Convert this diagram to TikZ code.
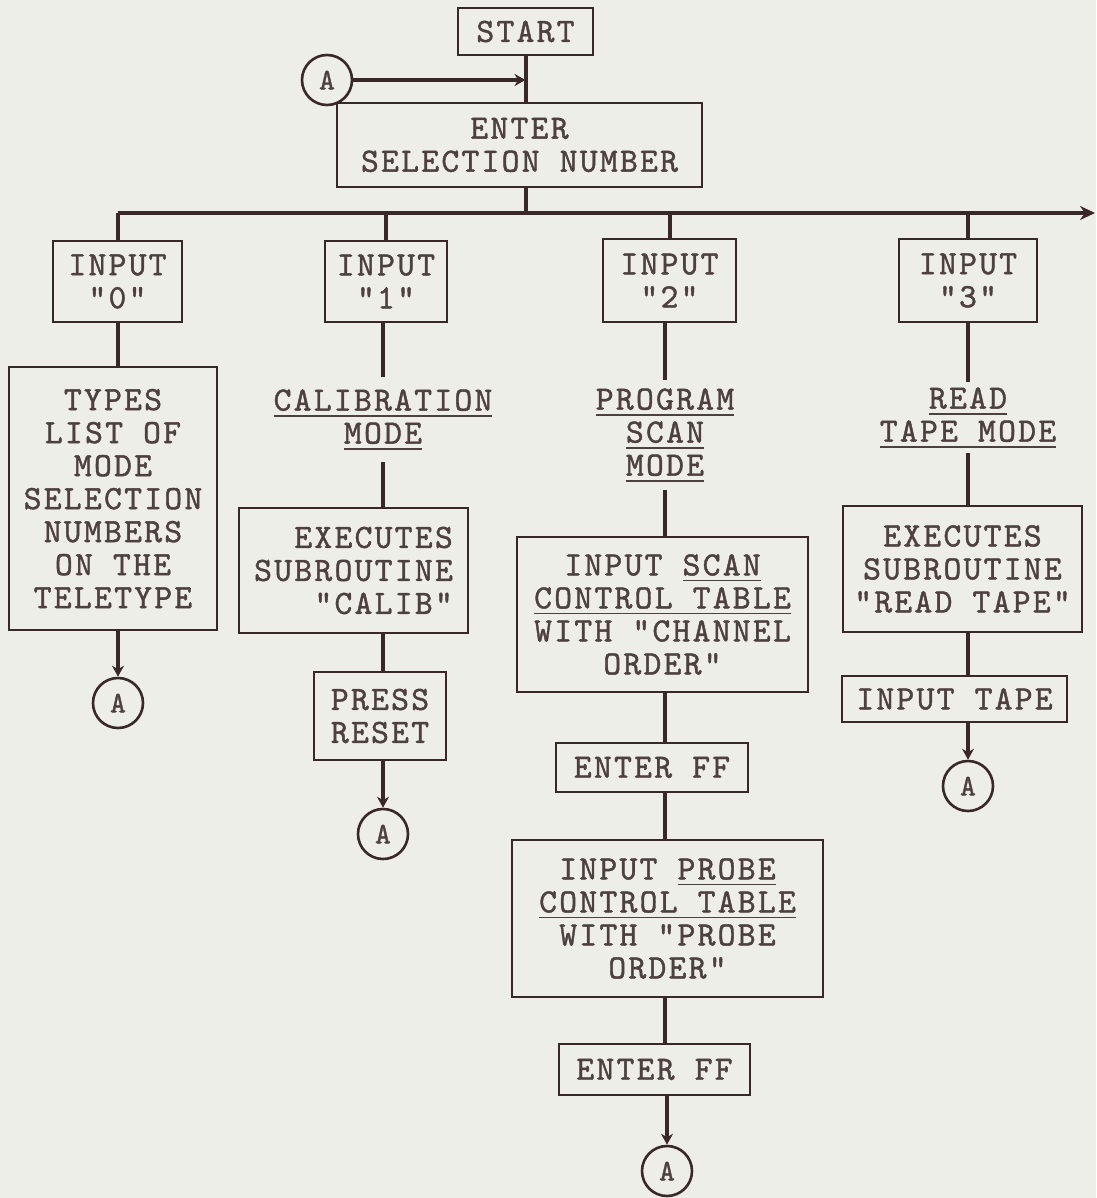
\documentclass[tikz,border=0pt]{standalone}
\usepackage{fontspec}
\newfontfamily\twf{lmmono10-regular.otf}[LetterSpace=6.6, FakeBold=1.2]
\usetikzlibrary{arrows.meta}
\definecolor{ink}{RGB}{58,40,40}
\definecolor{txt}{RGB}{78,64,64}
\definecolor{paper}{RGB}{237,238,231}
\newcommand{\twfont}{\twf\fontsize{34}{33}\selectfont}
\newcommand{\circfont}{\twf\fontsize{30}{30}\selectfont}
\newcommand{\uln}[1]{\setbox0\hbox{#1}\rlap{\rule[-6pt]{\wd0}{1.8pt}}\box0}
\begin{document}
\begin{tikzpicture}[x=1pt,y=-1pt,
  box/.style={draw=ink, line width=2.8pt, text=txt, inner sep=0pt, align=center, font=\twfont},
  lab/.style={text=txt, inner sep=0pt, align=center, font=\twfont},
  circ/.style={draw=ink, circle, line width=2.6pt, minimum size=50pt, inner sep=0pt, text=txt, font=\circfont},
  conn/.style={draw=ink, line width=4pt},
  arr/.style={conn, -{Stealth[length=11pt,width=12pt]}},
  busarr/.style={conn, -{Stealth[length=15pt,width=14pt]}}]
\fill[paper] (0,0) rectangle (1096,1198);
\useasboundingbox (0,0) rectangle (1096,1198);
% top
\node[box, minimum width=135pt, minimum height=47pt] (start) at (525.5,31.5) {START};
\node[box, minimum width=365pt, minimum height=84pt] (enter) at (519.5,145) {ENTER\\SELECTION NUMBER};
\node[circ] (a0) at (327,80) {A};
% inputs
\node[box, minimum width=129pt, minimum height=81pt] (in0) at (117.5,281.5) {INPUT\\"0"};
\node[box, minimum width=122pt, minimum height=81pt] (in1) at (386,281.5) {INPUT\\"1"};
\node[box, minimum width=133pt, minimum height=83pt] (in2) at (669.5,280.5) {INPUT\\"2"};
\node[box, minimum width=138pt, minimum height=83pt] (in3) at (968,280.5) {INPUT\\"3"};
% column 0
\node[box, minimum width=208pt, minimum height=263pt] (types) at (113,498.5) {TYPES\\LIST OF\\MODE\\SELECTION\\NUMBERS\\ON THE\\TELETYPE};
\node[circ] (a1) at (118,703) {A};
% column 1
\node[lab, minimum height=85pt] (calib) at (383,419.5) {\uln{CALIBRATION}\\\uln{MODE}};
\node[box, align=right, minimum width=229pt, minimum height=125pt] (exec1) at (353.5,570.5) {EXECUTES\\SUBROUTINE\\"CALIB"};
\node[box, minimum width=132pt, minimum height=88pt] (press) at (380,716) {PRESS\\RESET};
\node[circ] (a2) at (383,834) {A};
% column 2
\node[lab, minimum height=110pt] (prog) at (665,435) {\uln{PROGRAM}\\\uln{SCAN}\\\uln{MODE}};
\node[box, minimum width=291pt, minimum height=155pt] (scan) at (662.5,614.5) {INPUT \uln{SCAN}\\\uln{CONTROL TABLE}\\WITH "CHANNEL\\ORDER"};
\node[box, minimum width=192pt, minimum height=49pt] (ff1) at (652,767.5) {ENTER FF};
\node[box, minimum width=311pt, minimum height=157pt] (probe) at (667.5,918.5) {INPUT \uln{PROBE}\\\uln{CONTROL TABLE}\\WITH "PROBE\\ORDER"};
\node[box, minimum width=191pt, minimum height=51pt] (ff2) at (654.5,1069.5) {ENTER FF};
\node[circ] (a4) at (667,1171) {A};
% column 3
\node[lab, minimum height=71pt] (read) at (968,417.5) {\uln{READ}\\\uln{TAPE MODE}};
\node[box, minimum width=239pt, minimum height=126pt] (exec3) at (962.5,569) {EXECUTES\\SUBROUTINE\\"READ TAPE"};
\node[box, minimum width=225pt, minimum height=46pt] (inptape) at (954.5,699) {INPUT TAPE};
\node[circ] (a3) at (968,786) {A};
% bus
\coordinate (bus) at (0,213);
\coordinate (busR) at (1095,213);
% connectors top
\draw[conn] (start.south) -- (start.south |- enter.north);
\draw[arr] (a0.east) -- (start.south |- a0.east);
\draw[conn] (start.south |- enter.south) -- (start.south |- bus);
\draw[busarr] (in0.north |- bus) -- (busR);
\draw[conn] (in0.north |- bus) -- (in0.north);
\draw[conn] (in1.north |- bus) -- (in1.north);
\draw[conn] (in2.north |- bus) -- (in2.north);
\draw[conn] (in3.north |- bus) -- (in3.north);
% column 0
\draw[conn] (in0.south) -- (in0.south |- types.north);
\draw[arr] (a1.north |- types.south) -- (a1.north);
% column 1
\draw[conn] (calib.north |- in1.south) -- (calib.north);
\draw[conn] (calib.south) -- (calib.south |- exec1.north);
\draw[conn] (a2.north |- exec1.south) -- (a2.north |- press.north);
\draw[arr] (a2.north |- press.south) -- (a2.north);
% column 2
\draw[conn] (prog.north |- in2.south) -- (prog.north);
\draw[conn] (prog.south) -- (prog.south |- scan.north);
\draw[conn] (prog.south |- scan.south) -- (prog.south |- ff1.north);
\draw[conn] (prog.south |- ff1.south) -- (prog.south |- probe.north);
\draw[conn] (prog.south |- probe.south) -- (prog.south |- ff2.north);
\draw[arr] (a4.north |- ff2.south) -- (a4.north);
% column 3
\draw[conn] (read.north |- in3.south) -- (read.north);
\draw[conn] (read.south) -- (read.south |- exec3.north);
\draw[conn] (read.south |- exec3.south) -- (read.south |- inptape.north);
\draw[arr] (a3.north |- inptape.south) -- (a3.north);
\end{tikzpicture}
\end{document}
